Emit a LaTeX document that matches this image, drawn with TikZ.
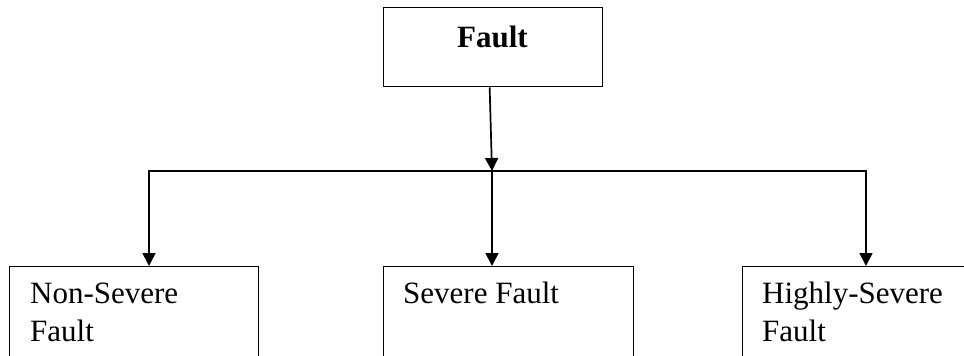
\documentclass[tikz,border=0pt]{standalone}
\usepackage{fontspec}
\setmainfont{Liberation Serif}
\usetikzlibrary{arrows.meta}
\begin{document}
\begin{tikzpicture}[x=1pt,y=-1pt,
  box/.style={draw=black,line width=1.3pt,rectangle,inner sep=0pt,anchor=north west},
  lbl/.style={inner sep=0pt,anchor=base west,font=\fontsize{31}{38}\selectfont},
  conn/.style={line width=1.7pt,-{Triangle[length=13pt,width=13pt]}}]
\useasboundingbox (0,0) rectangle (964,356);
\clip (0,0) rectangle (964,356);

% root box
\node[box,minimum width=219pt,minimum height=79pt] (root) at (383,7) {};
\node[inner sep=0pt,anchor=base,font=\fontsize{31}{38}\selectfont\bfseries] (roottxt) at (492.5,47) {Fault};

% child boxes (run past the lower edge)
\node[box,minimum width=249pt,minimum height=120pt] (ns) at (9,266) {};
\node[box,minimum width=250pt,minimum height=120pt] (sv) at (383,266) {};
\node[box,minimum width=240pt,minimum height=120pt] (hs) at (742,266) {};

\node[lbl] (ns1) at (30,303) {Non-Severe};
\node[lbl] (ns2) at (30,341) {Fault};
\node[lbl] (sv1) at (403,303) {Severe Fault};
\node[lbl] (hs1) at (762,303) {Highly-Severe};
\node[lbl] (hs2) at (762,341) {Fault};

% branching point
\coordinate (j) at (492,171);

\draw[conn] ([xshift=-3.5pt]root.south) -- (j);
\draw[conn] (j) -| ([xshift=140pt]ns.north west);
\draw[conn] (j) -- ([xshift=109pt]sv.north west);
\draw[conn] (j) -| ([xshift=124pt]hs.north west);
\end{tikzpicture}
\end{document}
